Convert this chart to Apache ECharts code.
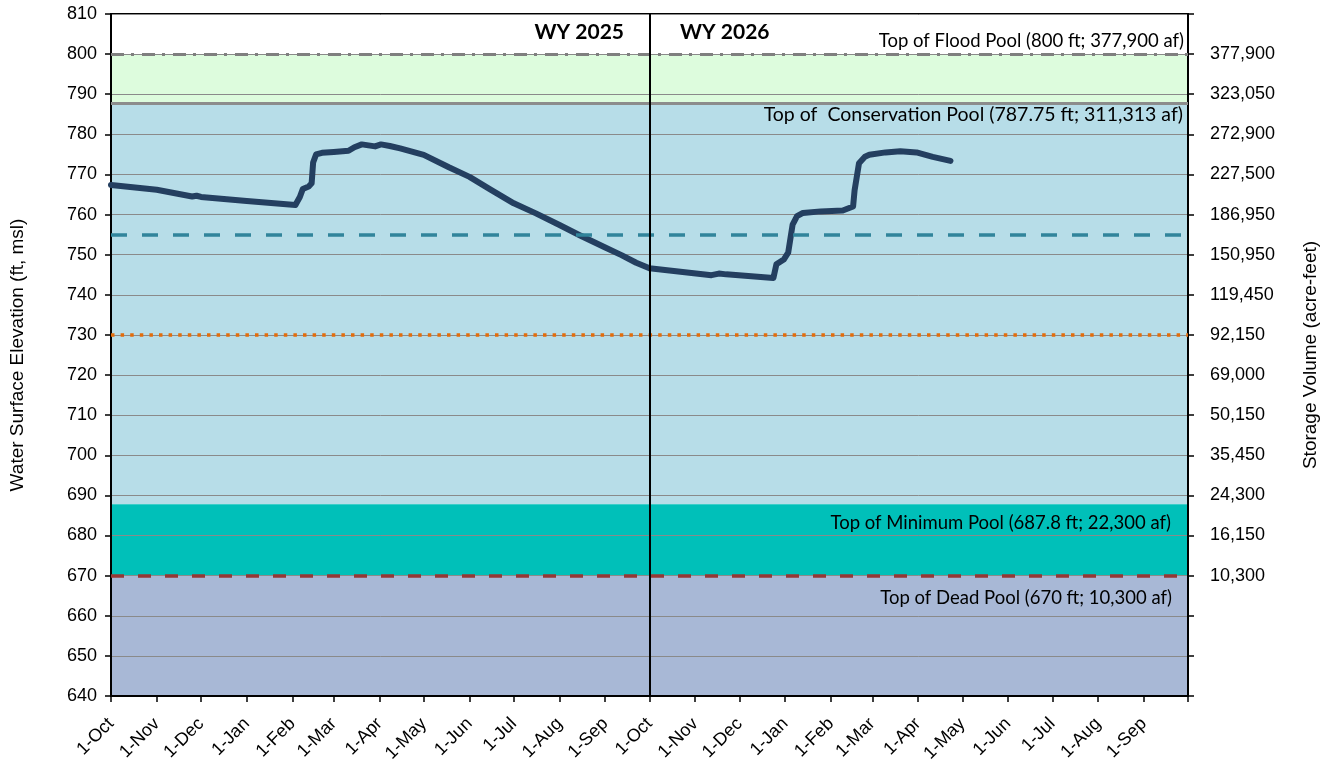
<!DOCTYPE html>
<html>
<head>
<meta charset="utf-8">
<title>Reservoir Water Surface Elevation</title>
<script src="https://cdn.jsdelivr.net/npm/echarts@6/dist/echarts.min.js"></script>
<style>
  html, body { margin: 0; padding: 0; background: #fff; }
  #main { width: 1331px; height: 761px; }
</style>
</head>
<body>
<div id="main"></div>
<script>
var obsDates = [
  '2024-10-01', '2024-11-01', '2024-11-25', '2024-11-28', '2024-12-01', '2025-01-01',
  '2025-02-03', '2025-02-06', '2025-02-08', '2025-02-12', '2025-02-14', '2025-02-15',
  '2025-02-17', '2025-02-21', '2025-03-01', '2025-03-11', '2025-03-15', '2025-03-20',
  '2025-03-29', '2025-04-02', '2025-04-08', '2025-04-15', '2025-05-01', '2025-05-18',
  '2025-06-01', '2025-06-15', '2025-07-01', '2025-07-16', '2025-08-01', '2025-08-15',
  '2025-09-01', '2025-09-12', '2025-09-22', '2025-10-01', '2025-11-12', '2025-11-17',
  '2025-11-22', '2025-12-24', '2025-12-26', '2025-12-31', '2026-01-03', '2026-01-06',
  '2026-01-09', '2026-01-13', '2026-01-25', '2026-02-09', '2026-02-16', '2026-02-17',
  '2026-02-20', '2026-02-24', '2026-02-27', '2026-03-10', '2026-03-20', '2026-03-31',
  '2026-04-11', '2026-04-23'
];
var obsElev = [
  767.4, 766.2, 764.5, 764.7, 764.4, 763.4,
  762.4, 764.4, 766.4, 767.0, 767.8, 773.0,
  775.0, 775.4, 775.6, 775.9, 776.8, 777.5,
  777.0, 777.5, 777.1, 776.5, 774.9, 771.8,
  769.4, 766.3, 762.8, 760.3, 757.4, 754.8,
  751.8, 749.9, 748.0, 746.6, 744.9, 745.3,
  745.1, 744.2, 747.6, 748.8, 750.5, 757.5,
  759.6, 760.4, 760.8, 761.0, 762.0, 766.0,
  772.8, 774.4, 774.9, 775.5, 775.8, 775.5,
  774.4, 773.4
];

// storage volume (acre-feet) shown on the right axis
var storageElev = [800, 790, 780, 770, 760, 750, 740, 730, 720, 710, 700, 690, 680, 670];
var storageLabels = ['377,900', '323,050', '272,900', '227,500', '186,950', '150,950', '119,450',
  '92,150', '69,000', '50,150', '35,450', '24,300', '16,150', '10,300'];

// pool levels and guide lines (ft)
var floodTop = 800;
var consTop = 787.75;
var minTop = 687.8;
var deadTop = 670;
var guideUpper = 755;
var guideLower = 730;
var wyBreak = '2025-10-01';

var monthNames = ['Jan', 'Feb', 'Mar', 'Apr', 'May', 'Jun', 'Jul', 'Aug', 'Sep', 'Oct', 'Nov', 'Dec'];

// one category per day, two water years
var days = [];
var t0 = Date.UTC(2024, 9, 1);
for (var i = 0; i <= 730; i++) {
  days.push(new Date(t0 + i * 86400000).toISOString().slice(0, 10));
}

var lineData = [];
for (var i = 0; i < obsDates.length; i++) {
  lineData.push([obsDates[i], obsElev[i]]);
}

var isMonthStart = function (idx, val) {
  return val.slice(8) === '01';
};

var annoFont = 'Lato, "Open Sans", sans-serif';
var axisFont = '"Liberation Sans", Arial, sans-serif';

var chart = echarts.init(document.getElementById('main'));

option = {
  animation: false,
  backgroundColor: '#fff',
  grid: {
    left: 111,
    right: 143,
    top: 14,
    bottom: 65,
    show: true,
    borderColor: '#000',
    borderWidth: 2,
    backgroundColor: 'transparent',
    containLabel: false,
    outerBoundsMode: 'none'
  },
  xAxis: {
    type: 'category',
    data: days,
    boundaryGap: false,
    z: 2,
    axisLine: {
      lineStyle: { color: '#000', width: 2 }
    },
    axisTick: {
      interval: isMonthStart,
      length: 6,
      lineStyle: { color: '#000', width: 1.5 }
    },
    axisLabel: {
      interval: function (idx, val) {
        return idx < days.length - 1 && val.slice(8) === '01';
      },
      rotate: 45,
      margin: 25,
      color: '#000',
      fontSize: 18,
      fontFamily: axisFont,
      formatter: function (val) {
        return '1-' + monthNames[parseInt(val.slice(5, 7), 10) - 1];
      }
    },
    splitLine: { show: false }
  },
  yAxis: [{
    type: 'value',
    position: 'left',
    min: 640,
    max: 810,
    interval: 10,
    z: 2,
    name: 'Water Surface Elevation (ft, msl)',
    nameLocation: 'middle',
    nameRotate: 90,
    nameGap: 84,
    nameTextStyle: { color: '#000', fontSize: 19, fontFamily: axisFont },
    axisLine: { show: true, lineStyle: { color: '#000', width: 2 } },
    axisTick: { show: true, length: 6, lineStyle: { color: '#000', width: 1.5 } },
    axisLabel: { color: '#000', fontSize: 18, fontFamily: axisFont, margin: 14 },
    splitLine: { show: true, lineStyle: { color: '#8a8a8a', width: 1 } }
  }, {
    type: 'value',
    position: 'right',
    min: 640,
    max: 810,
    interval: 10,
    z: 2,
    name: 'Storage Volume (acre-feet)',
    nameLocation: 'middle',
    nameRotate: 90,
    nameGap: 113,
    nameTextStyle: { color: '#000', fontSize: 19, fontFamily: axisFont },
    axisLine: { show: true, lineStyle: { color: '#000', width: 2 } },
    axisTick: { show: true, length: 6, lineStyle: { color: '#000', width: 1.5 } },
    axisLabel: {
      color: '#000',
      fontSize: 18,
      fontFamily: axisFont,
      margin: 22,
      formatter: function (v) {
        var k = storageElev.indexOf(v);
        return k >= 0 ? storageLabels[k] : '';
      }
    },
    splitLine: { show: false }
  }],
  graphic: [{
    type: 'text',
    right: 707,
    top: 22,
    style: { text: 'WY 2025', font: 'bold 21px ' + annoFont, fill: '#000' }
  }, {
    type: 'text',
    left: 680,
    top: 22,
    style: { text: 'WY 2026', font: 'bold 21px ' + annoFont, fill: '#000' }
  }],
  series: [{
    name: 'pools',
    type: 'line',
    data: [],
    z: 1,
    silent: true,
    markArea: {
      silent: true,
      label: {
        show: true,
        position: 'insideTopRight',
        distance: 0,
        color: '#000',
        fontSize: 18.5,
        fontFamily: annoFont
      },
      data: [
        [{ yAxis: consTop, itemStyle: { color: '#ddfcdd' }, label: { show: false } }, { yAxis: floodTop }],
        [{
          yAxis: minTop,
          itemStyle: { color: '#b7dde8' },
          label: { formatter: 'Top of  Conservation Pool (787.75 ft; 311,313 af)', padding: [1, 5, 0, 0], fontSize: 19.5 }
        }, { yAxis: consTop }],
        [{
          yAxis: deadTop,
          itemStyle: { color: '#00c0b9' },
          label: { formatter: 'Top of Minimum Pool (687.8 ft; 22,300 af)', padding: [9, 17, 0, 0] }
        }, { yAxis: minTop }],
        [{
          yAxis: 640,
          itemStyle: { color: '#a8b8d6' },
          label: { formatter: 'Top of Dead Pool (670 ft; 10,300 af)', padding: [13, 16, 0, 0] }
        }, { yAxis: deadTop }]
      ]
    }
  }, {
    name: 'guides',
    type: 'line',
    data: [],
    z: 3,
    silent: true,
    markLine: {
      silent: true,
      symbol: 'none',
      label: { show: false },
      data: [{
        yAxis: floodTop,
        lineStyle: { color: '#7f7f7f', width: 3, type: [13, 7, 3, 8] },
        label: {
          show: true,
          position: 'insideEndTop',
          distance: 4,
          formatter: 'Top of Flood Pool (800 ft; 377,900 af)',
          color: '#000',
          fontSize: 18.5,
          fontFamily: annoFont
        }
      }, {
        yAxis: consTop,
        lineStyle: { color: '#8c8c8c', width: 3, type: 'solid' }
      }, {
        yAxis: guideUpper,
        lineStyle: { color: '#31849b', width: 3.5, type: [16, 15] }
      }, {
        yAxis: guideLower,
        lineStyle: { color: '#e46c0a', width: 3.5, type: [3.5, 6.1] }
      }, {
        yAxis: deadTop,
        lineStyle: { color: '#953735', width: 3.5, type: [13, 14] }
      }, {
        xAxis: wyBreak,
        lineStyle: { color: '#000', width: 2, type: 'solid' }
      }]
    }
  }, {
    name: 'Water Surface Elevation',
    type: 'line',
    z: 4,
    showSymbol: false,
    data: lineData,
    lineStyle: { color: '#243f60', width: 6, cap: 'round', join: 'round' }
  }]
};

chart.setOption(option);
</script>
</body>
</html>
